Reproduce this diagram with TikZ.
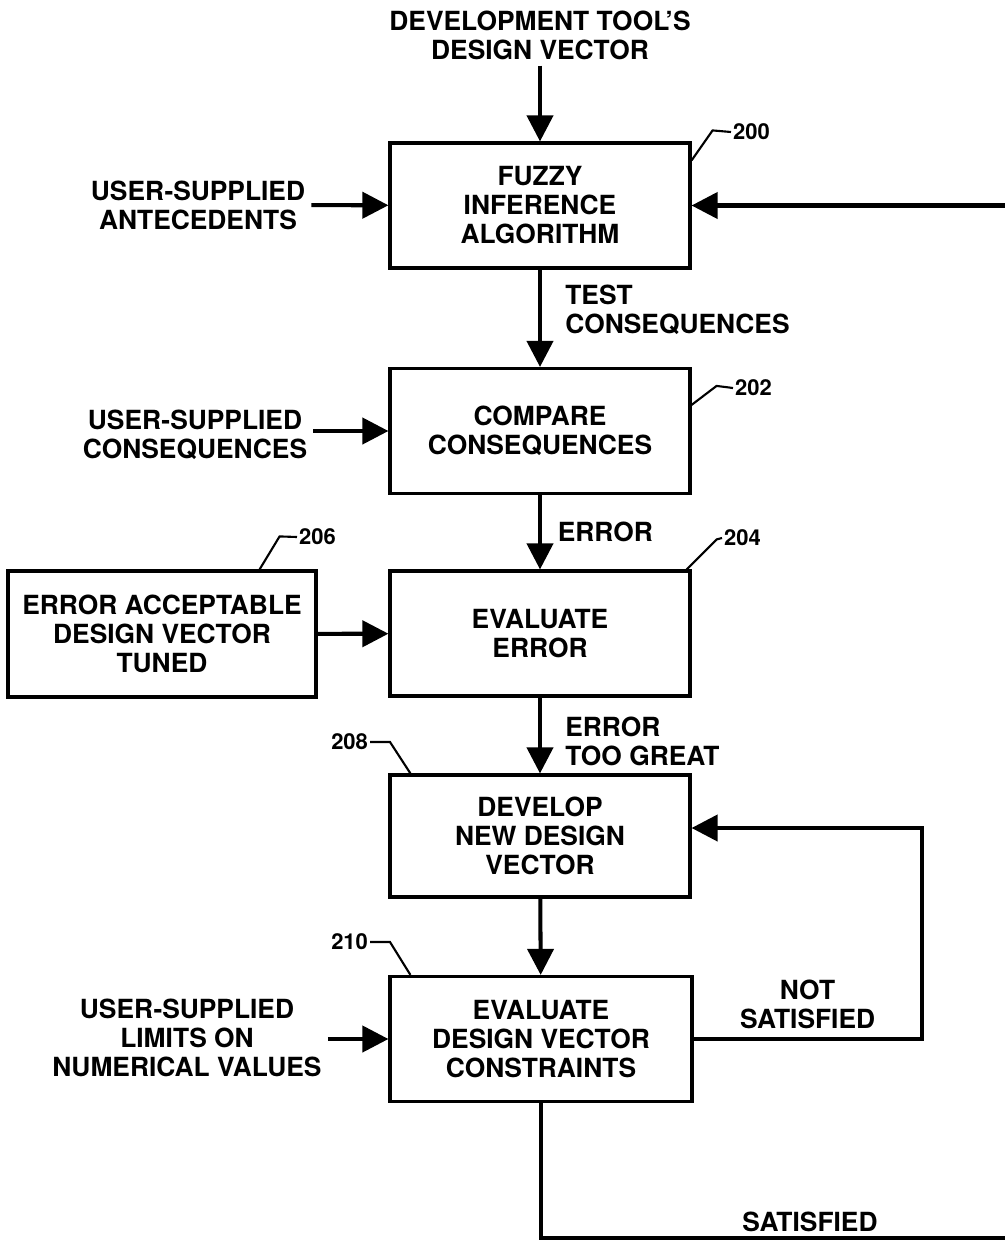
\documentclass[tikz,border=0pt]{standalone}
\usepackage{fontspec}
\setmainfont{TeX Gyre Heros}
\usetikzlibrary{arrows.meta}
\usetikzlibrary{calc}

\tikzset{
	procbox/.style={draw, line width=1.8pt, minimum width=6cm, minimum height=2.5cm, align=center, font=\bfseries\fontsize{15}{16.5}\selectfont},
	lbl/.style={align=center, font=\bfseries\fontsize{15}{16.5}\selectfont},
	flow/.style={line width=2.3pt, -{Triangle[length=0.52cm,width=0.52cm]}},
	refnum/.style={font=\bfseries\fontsize{12.5}{13}\selectfont, inner sep=1pt},
	leader/.style={line width=1.2pt}
}

\begin{document}
\begin{tikzpicture}
\useasboundingbox (0,0) rectangle (20.08,-24.82);
\node[procbox] (b200) at (10.8,-4.11) {FUZZY\\INFERENCE\\ALGORITHM};
\node[procbox] (b202) at (10.8,-8.62) {COMPARE\\CONSEQUENCES};
\node[procbox] (b204) at (10.8,-12.67) {EVALUATE\\ERROR};
\node[procbox, minimum width=6.16cm, minimum height=2.52cm] (b206) at (3.24,-12.68) {ERROR ACCEPTABLE\\DESIGN VECTOR\\TUNED};
\node[procbox, minimum height=2.44cm] (b208) at (10.8,-16.72) {DEVELOP\\NEW DESIGN\\VECTOR};
\node[procbox, minimum width=6.04cm] (b210) at (10.82,-20.78) {EVALUATE\\DESIGN VECTOR\\CONSTRAINTS};

\node[lbl] (src) at (10.8,-0.7) {DEVELOPMENT TOOL'S\\DESIGN VECTOR};
\node[lbl] (ant) at (3.96,-4.1) {USER-SUPPLIED\\ANTECEDENTS};
\node[lbl] (con) at (3.9,-8.7) {USER-SUPPLIED\\CONSEQUENCES};
\node[lbl] (lim) at (3.74,-20.76) {USER-SUPPLIED\\LIMITS ON\\NUMERICAL VALUES};

\draw[flow] (src) -- (b200);
\draw[flow] (ant) -- (b200);
\draw[flow] (con.east |- b202.west) -- (b202.west);
\draw[flow] (b206) -- (b204);
\draw[flow] (lim.east |- b210.west) -- (b210.west);
\draw[flow] (b200) -- (b202) node[lbl, midway, anchor=west, align=left, xshift=0.35cm, yshift=0.16cm] {TEST\\CONSEQUENCES};
\draw[flow] (b202) -- (b204) node[lbl, midway, anchor=west, xshift=0.2cm] {ERROR};
\draw[flow] (b204) -- (b208) node[lbl, midway, anchor=west, align=left, xshift=0.35cm, yshift=-0.12cm] {ERROR\\TOO GREAT};
\draw[flow] (b208) -- (b210);
\draw[flow] (b210.east) -- ++(4.56,0) node[lbl, midway, above, yshift=0.05cm] {NOT\\SATISFIED} |- ([yshift=0.16cm]b208.east);
\coordinate (ret) at (20.4,-24.76);
\draw[flow] (b210.south) |- (ret) |- (b200.east);
\node[lbl] (sat) at (16.2,-24.44) {SATISFIED};

\node[refnum, anchor=west] (n200) at (14.62,-2.64) {200};
\node[refnum, anchor=west] (n202) at (14.66,-7.76) {202};
\node[refnum, anchor=west] (n204) at (14.44,-10.76) {204};
\node[refnum, anchor=west] (n206) at (5.94,-10.74) {206};
\node[refnum, anchor=east] (n208) at (7.4,-14.84) {208};
\node[refnum, anchor=east] (n210) at (7.4,-18.84) {210};
\draw[leader] ([yshift=-0.38cm]b200.north east) -- ++(0.42,0.6) -- (n200.west);
\draw[leader] ([yshift=-0.76cm]b202.north east) -- ++(0.5,0.38) -- (n202.west);
\draw[leader] ([xshift=-0.1cm]b204.north east) -- ++(0.6,0.6) -- (n204.west);
\draw[leader] ([xshift=-1.16cm]b206.north east) -- ++(0.4,0.66) -- (n206.west);
\draw[leader] (n208.east) -- ++(0.4,0) -- ([xshift=0.44cm]b208.north west);
\draw[leader] (n210.east) -- ++(0.4,0) -- ([xshift=0.44cm]b210.north west);
\end{tikzpicture}
\end{document}
